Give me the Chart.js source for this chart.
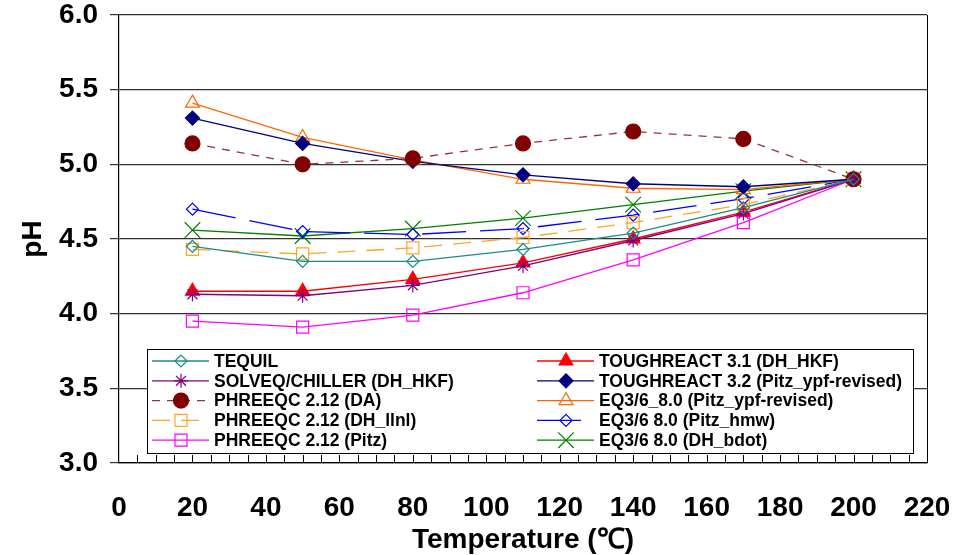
<!DOCTYPE html>
<html>
<head>
<meta charset="utf-8">
<script src="https://cdn.jsdelivr.net/npm/chart.js@4.4.0/dist/chart.umd.min.js"></script>
<style>
  html, body { margin: 0; padding: 0; background: #fff; }
  #wrap { width: 962px; height: 555px; }
</style>
</head>
<body>
<div id="wrap"><canvas id="phChart" width="962" height="555"></canvas></div>
<script>
// temperatures (degC) and pH per code
const temps = [20, 50, 80, 110, 140, 170, 200];
const tequil = [4.45, 4.35, 4.35, 4.43, 4.54, 4.71, 4.90];
const solveq = [4.13, 4.12, 4.19, 4.32, 4.49, 4.67, 4.90];
const phreeqcDA = [5.14, 5.00, 5.04, 5.14, 5.22, 5.17, 4.90];
const phreeqcLlnl = [4.43, 4.40, 4.44, 4.51, 4.61, 4.73, 4.90];
const phreeqcPitz = [3.95, 3.91, 3.99, 4.14, 4.36, 4.61, 4.90];
const tough31 = [4.15, 4.15, 4.23, 4.34, 4.50, 4.68, 4.90];
const tough32 = [5.31, 5.14, 5.02, 4.93, 4.87, 4.85, 4.90];
const eqYpf = [5.41, 5.18, 5.03, 4.90, 4.84, 4.83, 4.90];
const eqHmw = [4.70, 4.55, 4.53, 4.57, 4.66, 4.77, 4.90];
const eqBdot = [4.56, 4.52, 4.57, 4.64, 4.73, 4.82, 4.90];

const xTicks = [0, 20, 40, 60, 80, 100, 120, 140, 160, 180, 200, 220];
const yTicks = [3.0, 3.5, 4.0, 4.5, 5.0, 5.5, 6.0];

const FONT = "'Liberation Sans', Arial, sans-serif";

function pts(values) {
    return temps.map((t, i) => ({ x: t, y: values[i] }));
}

function series(label, values, color, style, opts) {
    return Object.assign({
        label: label,
        data: pts(values),
        borderColor: color,
        backgroundColor: "rgba(0,0,0,0)",
        pointBorderColor: color,
        pointBackgroundColor: "rgba(0,0,0,0)",
        pointStyle: style,
        pointRadius: 6,
        pointBorderWidth: 1.2,
        borderWidth: 1.3,
        tension: 0,
        fill: false,
    }, opts || {});
}

const datasets = [
    series("TEQUIL", tequil, "#1a8c8c", "rectRot", { pointRadius: 6 }),
    series("SOLVEQ/CHILLER (DH_HKF)", solveq, "#800080", "star", { pointRadius: 7 }),
    series("PHREEQC 2.12 (DA)", phreeqcDA, "#993333", "circle", {
        pointRadius: 7.5, pointBackgroundColor: "#800000", pointBorderColor: "#800000", borderDash: [8, 7],
    }),
    series("PHREEQC 2.12 (DH_llnl)", phreeqcLlnl, "#FFA520", "rect", { pointRadius: 8.5, borderDash: [18, 11] }),
    series("PHREEQC 2.12 (Pitz)", phreeqcPitz, "#FF00FF", "rect", { pointRadius: 8.5 }),
    series("TOUGHREACT 3.1 (DH_HKF)", tough31, "#FF0000", "triangle", { pointRadius: 8, pointBackgroundColor: "#FF0000" }),
    series("TOUGHREACT 3.2 (Pitz_ypf-revised)", tough32, "#000080", "rectRot", { pointRadius: 7, pointBackgroundColor: "#000080" }),
    series("EQ3/6_8.0 (Pitz_ypf-revised)", eqYpf, "#FF6600", "triangle", { pointRadius: 8 }),
    series("EQ3/6 8.0 (Pitz_hmw)", eqHmw, "#0000FF", "rectRot", { pointRadius: 6, borderDash: [44, 14] }),
    series("EQ3/6 8.0 (DH_bdot)", eqBdot, "#008000", "crossRot", { pointRadius: 11 }),
];

// small inner ticks every 5 degrees on the x axis, plus right frame line
const frame = {
    id: "frame",
    beforeDatasetsDraw(chart) {
        const { ctx, chartArea: ca } = chart;
        const xs = chart.scales.x;
        ctx.save();
        ctx.strokeStyle = "#000";
        ctx.lineWidth = 1;
        ctx.beginPath();
        for (let t = 5; t < 220; t += 5) {
            const px = Math.round(xs.getPixelForValue(t)) + 0.5;
            ctx.moveTo(px, ca.bottom);
            ctx.lineTo(px, ca.bottom - 8);
        }
        const rx = Math.round(ca.right) + 0.5;
        ctx.moveTo(rx, ca.top);
        ctx.lineTo(rx, ca.bottom);
        ctx.stroke();
        ctx.restore();
    },
};

// boxed two-column legend inside the plot
const boxLegend = {
    id: "boxLegend",
    afterDraw(chart) {
        const { ctx, chartArea: ca } = chart;
        const left = ca.left + 28, right = ca.right - 14;
        const bottom = ca.bottom - 10, top = bottom - 104;
        ctx.save();
        ctx.fillStyle = "#fff";
        ctx.fillRect(left, top, right - left, bottom - top);
        ctx.strokeStyle = "#000";
        ctx.lineWidth = 1;
        ctx.strokeRect(Math.round(left) + 0.5, Math.round(top) + 0.5, right - left, bottom - top);

        const colX = [left + 5, left + 390];
        chart.data.datasets.forEach((ds, i) => {
            const col = i < 5 ? 0 : 1;
            const row = i % 5;
            const x0 = colX[col];
            const y = top + 12 + row * 19.8;
            ctx.save();
            ctx.strokeStyle = ds.borderColor;
            ctx.lineWidth = ds.borderWidth;
            ctx.setLineDash(ds.borderDash || []);
            ctx.beginPath();
            ctx.moveTo(x0, y);
            ctx.lineTo(x0 + 57, y);
            ctx.stroke();
            ctx.restore();
            ctx.save();
            ctx.strokeStyle = ds.pointBorderColor;
            ctx.fillStyle = ds.pointBackgroundColor;
            ctx.lineWidth = ds.pointBorderWidth;
            Chart.helpers.drawPoint(ctx, {
                pointStyle: ds.pointStyle,
                radius: ds.pointRadius,
                rotation: 0,
                borderWidth: ds.pointBorderWidth,
            }, x0 + 29, y);
            ctx.restore();
            ctx.fillStyle = "#000";
            ctx.font = "bold 17.5px " + FONT;
            ctx.textBaseline = "middle";
            ctx.textAlign = "left";
            ctx.fillText(ds.label, x0 + 62, y + 1);
        });
        ctx.restore();
    },
};

const ctx = document.getElementById("phChart").getContext("2d");
new Chart(ctx, {
    type: "line",
    data: { datasets: datasets },
    options: {
        responsive: false,
        animation: false,
        layout: { padding: { top: 15, right: 35, left: 0, bottom: 0 } },
        plugins: {
            legend: { display: false },
            tooltip: { enabled: false },
        },
        scales: {
            x: {
                type: "linear",
                min: 0,
                max: 220,
                afterBuildTicks: (scale) => { scale.ticks = xTicks.map(v => ({ value: v })); },
                afterFit: (scale) => {
                    scale.height = 92;
                    scale.paddingLeft = 0;
                    scale.paddingRight = 0;
                },
                ticks: {
                    color: "#000",
                    font: { family: FONT, size: 28, weight: "bold" },
                    padding: 28,
                    maxRotation: 0,
                    callback: (v) => String(v),
                },
                grid: { drawOnChartArea: false, drawTicks: false },
                border: { display: true, color: "#000", width: 1.2 },
                title: {
                    display: true,
                    text: "Temperature (℃)",
                    color: "#000",
                    font: { family: FONT, size: 28, weight: "bold" },
                    padding: { top: 0, bottom: -2 },
                },
            },
            y: {
                min: 3,
                max: 6,
                afterBuildTicks: (scale) => { scale.ticks = yTicks.map(v => ({ value: v })); },
                afterFit: (scale) => {
                    scale.width = 119;
                    scale.paddingTop = 0;
                    scale.paddingBottom = 0;
                },
                ticks: {
                    color: "#000",
                    font: { family: FONT, size: 28, weight: "bold" },
                    padding: 12,
                    callback: (v) => Number(v).toFixed(1),
                },
                grid: { color: "#333", lineWidth: 1.2, tickLength: 9 },
                border: { display: true, color: "#000", width: 1.2 },
                title: {
                    display: true,
                    text: "pH",
                    color: "#000",
                    font: { family: FONT, size: 28, weight: "bold" },
                    padding: { top: 16, bottom: 0 },
                },
            },
        },
    },
    plugins: [frame, boxLegend],
});
</script>
</body>
</html>
